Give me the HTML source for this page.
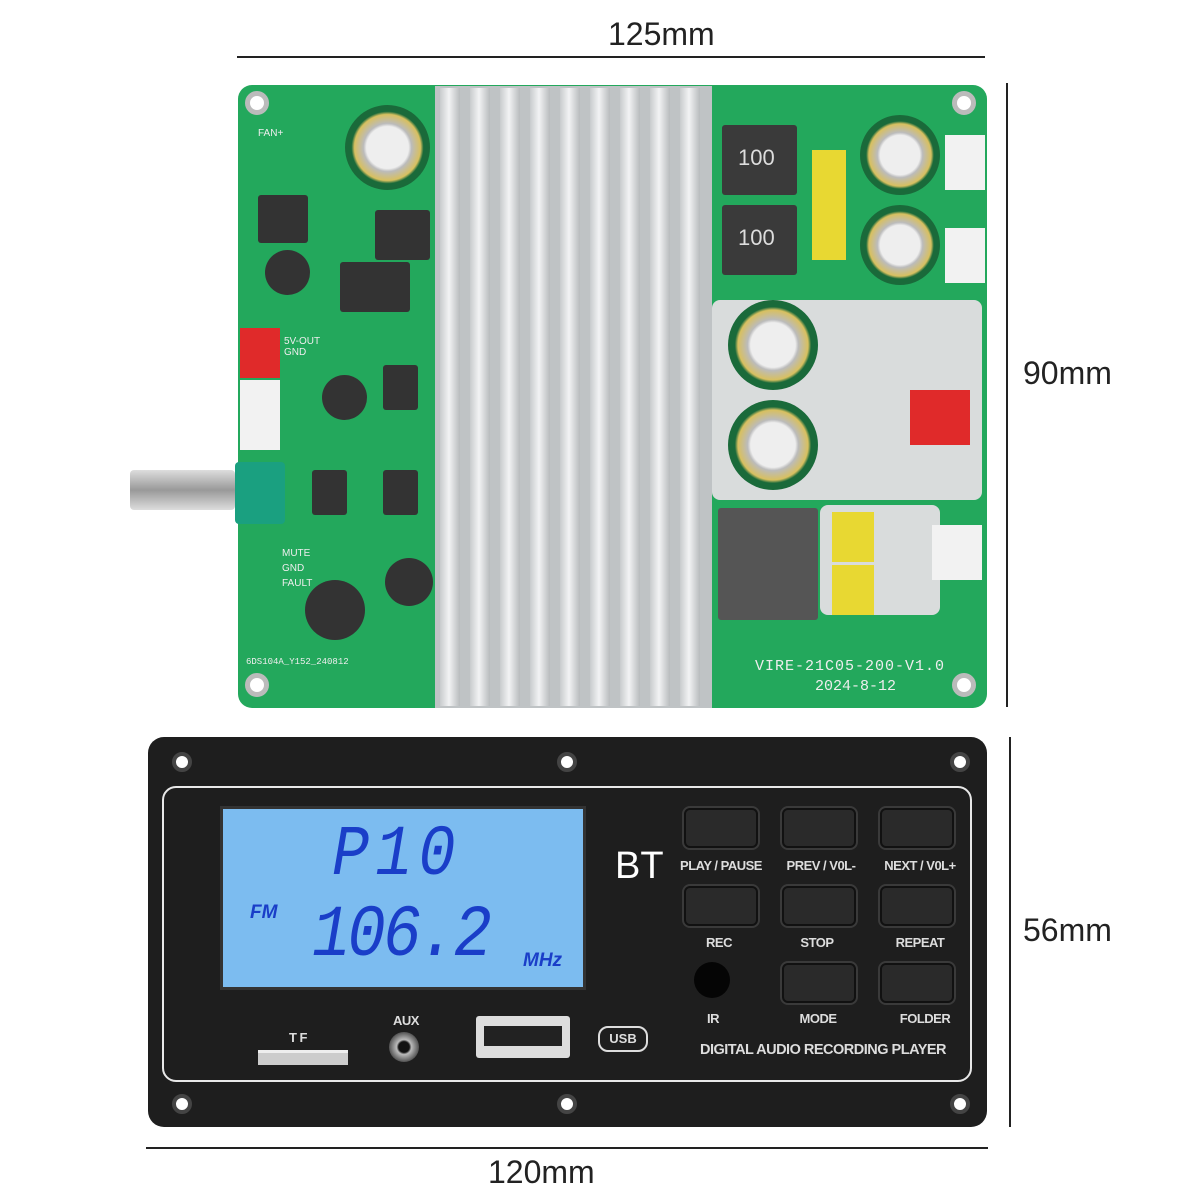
<!DOCTYPE html>
<html><head><meta charset="utf-8"><style>
body{margin:0;width:1200px;height:1200px;background:#fff;position:relative;overflow:hidden;font-family:"Liberation Sans",sans-serif}
.a{position:absolute}
.dim{font-size:32px;color:#222}
.btn{position:absolute;width:70px;height:36px;background:#2a2a2a;border:2px solid #111;border-radius:6px;box-shadow:0 0 0 2px #3a3a3a}
.lbl{position:absolute;color:#ddd;font-size:13px;font-weight:bold;text-align:center;width:120px;letter-spacing:-0.5px}
.hole{position:absolute;width:14px;height:14px;border-radius:50%;background:#fff;border:5px solid #bbb}
.fin{position:absolute;top:88px;height:618px;width:20px;background:linear-gradient(90deg,#c8cbcd,#f2f3f4 45%,#b8bbbd)}
.cap{position:absolute;border-radius:50%;background:radial-gradient(circle,#eee 35%,#bbb 40%,#d8c060 55%,#1a6a3a 60%)}
.comp{position:absolute;background:#333;border-radius:3px}
.seg{position:absolute;color:#1a3ec8;font-style:italic;font-family:'Liberation Mono',monospace;transform-origin:0 0;line-height:1}
</style></head><body>
<div class="a" style="left:237px;top:56px;width:748px;height:2px;background:#222"></div>
<div class="a dim" style="left:608px;top:16px">125mm</div>
<div class="a" style="left:1006px;top:83px;width:2px;height:624px;background:#222"></div>
<div class="a dim" style="left:1023px;top:355px">90mm</div>
<div class="a" style="left:1009px;top:737px;width:2px;height:390px;background:#222"></div>
<div class="a dim" style="left:1023px;top:912px">56mm</div>
<div class="a" style="left:146px;top:1147px;width:842px;height:2px;background:#222"></div>
<div class="a dim" style="left:488px;top:1154px">120mm</div>

<div class="a" style="left:238px;top:85px;width:749px;height:623px;background:#23a85c;border-radius:14px"></div>
<div class="a" style="left:712px;top:300px;width:270px;height:200px;background:#d9dcdc;border-radius:8px"></div>
<div class="a" style="left:820px;top:505px;width:120px;height:110px;background:#d9dcdc;border-radius:8px"></div>
<div class="a" style="left:435px;top:86px;width:277px;height:622px;background:#bfc3c5"></div>
<div class="fin" style="left:440px"></div><div class="fin" style="left:470px"></div><div class="fin" style="left:500px"></div><div class="fin" style="left:530px"></div><div class="fin" style="left:560px"></div><div class="fin" style="left:590px"></div><div class="fin" style="left:620px"></div><div class="fin" style="left:650px"></div><div class="fin" style="left:680px"></div>
<div class="hole" style="left:245px;top:91px"></div><div class="hole" style="left:952px;top:91px"></div>
<div class="hole" style="left:245px;top:673px"></div><div class="hole" style="left:952px;top:673px"></div>
<div class="cap" style="left:345px;top:105px;width:85px;height:85px"></div>
<div class="cap" style="left:860px;top:115px;width:80px;height:80px"></div>
<div class="cap" style="left:860px;top:205px;width:80px;height:80px"></div>
<div class="cap" style="left:728px;top:300px;width:90px;height:90px"></div>
<div class="cap" style="left:728px;top:400px;width:90px;height:90px"></div>
<div class="comp" style="left:722px;top:125px;width:75px;height:70px;background:#3a3a3a"></div>
<div class="comp" style="left:722px;top:205px;width:75px;height:70px;background:#3a3a3a"></div>
<div class="a" style="left:738px;top:145px;color:#ddd;font-size:22px">100</div>
<div class="a" style="left:738px;top:225px;color:#ddd;font-size:22px">100</div>
<div class="a" style="left:812px;top:150px;width:34px;height:55px;background:#e8d832"></div>
<div class="a" style="left:812px;top:205px;width:34px;height:55px;background:#e8d832"></div>
<div class="a" style="left:832px;top:512px;width:42px;height:50px;background:#e8d832"></div>
<div class="a" style="left:832px;top:565px;width:42px;height:50px;background:#e8d832"></div>
<div class="comp" style="left:718px;top:508px;width:100px;height:112px;background:#555"></div>
<div class="comp" style="left:258px;top:195px;width:50px;height:48px"></div>
<div class="comp" style="left:340px;top:262px;width:70px;height:50px"></div>
<div class="comp" style="left:375px;top:210px;width:55px;height:50px"></div>
<div class="cap" style="left:265px;top:250px;width:45px;height:45px;background:#333"></div>
<div class="cap" style="left:322px;top:375px;width:45px;height:45px;background:#333"></div>
<div class="cap" style="left:305px;top:580px;width:60px;height:60px;background:#333"></div>
<div class="cap" style="left:385px;top:558px;width:48px;height:48px;background:#333"></div>
<div class="comp" style="left:312px;top:470px;width:35px;height:45px"></div>
<div class="comp" style="left:383px;top:470px;width:35px;height:45px"></div>
<div class="comp" style="left:383px;top:365px;width:35px;height:45px"></div>
<div class="a" style="left:240px;top:328px;width:40px;height:50px;background:#e02a2a"></div>
<div class="a" style="left:240px;top:380px;width:40px;height:70px;background:#f2f2f2"></div>
<div class="a" style="left:910px;top:390px;width:60px;height:55px;background:#e02a2a"></div>
<div class="a" style="left:945px;top:135px;width:40px;height:55px;background:#f2f2f2"></div>
<div class="a" style="left:945px;top:228px;width:40px;height:55px;background:#f2f2f2"></div>
<div class="a" style="left:932px;top:525px;width:50px;height:55px;background:#f2f2f2"></div>
<div class="a" style="left:235px;top:462px;width:50px;height:62px;background:#1aa080;border-radius:4px"></div>
<div class="a" style="left:130px;top:470px;width:105px;height:40px;background:linear-gradient(#ddd,#999,#ddd);border-radius:4px"></div>
<div class="a" style="left:755px;top:658px;color:#eee;font-size:15px;letter-spacing:1px;font-family:'Liberation Mono',monospace">VIRE-21C05-200-V1.0</div>
<div class="a" style="left:815px;top:678px;color:#eee;font-size:15px;font-family:'Liberation Mono',monospace">2024-8-12</div>
<div class="a" style="left:246px;top:657px;color:#eee;font-size:9px;font-family:'Liberation Mono',monospace">6DS104A_Y152_240812</div>
<div class="a" style="left:258px;top:128px;color:#eee;font-size:10px">FAN+</div>
<div class="a" style="left:284px;top:336px;color:#eee;font-size:10px">5V-OUT<br>GND</div>
<div class="a" style="left:282px;top:546px;color:#eee;font-size:10px;line-height:15px">MUTE<br>GND<br>FAULT</div>

<div class="a" style="left:148px;top:737px;width:839px;height:390px;background:#1e1e1e;border-radius:16px"></div>
<div class="a" style="left:162px;top:786px;width:806px;height:292px;border:2.5px solid #e8e8e8;border-radius:14px"></div>
<div class="hole" style="left:172px;top:752px;border-color:#444;width:12px;height:12px;border-width:4px"></div>
<div class="hole" style="left:557px;top:752px;border-color:#444;width:12px;height:12px;border-width:4px"></div>
<div class="hole" style="left:950px;top:752px;border-color:#444;width:12px;height:12px;border-width:4px"></div>
<div class="hole" style="left:172px;top:1094px;border-color:#444;width:12px;height:12px;border-width:4px"></div>
<div class="hole" style="left:557px;top:1094px;border-color:#444;width:12px;height:12px;border-width:4px"></div>
<div class="hole" style="left:950px;top:1094px;border-color:#444;width:12px;height:12px;border-width:4px"></div>
<div class="a" style="left:220px;top:806px;width:366px;height:184px;background:#7cbcf0;border:3px solid #333;box-sizing:border-box"></div>
<div class="seg" style="left:332px;top:820px;font-size:62px;letter-spacing:6px;transform:scaleY(1.15)">P10</div>
<div class="seg" style="left:312px;top:900px;font-size:64px;letter-spacing:-3px;transform:scaleY(1.15)">106.2</div>
<div class="a" style="left:250px;top:902px;color:#1a3ec8;font-size:19px;font-style:italic;font-weight:bold">FM</div>
<div class="a" style="left:523px;top:950px;color:#1a3ec8;font-size:19px;font-style:italic;font-weight:bold">MHz</div>
<div class="a" style="left:615px;top:845px;color:#fff;font-size:38px">BT</div>
<div class="btn" style="left:684px;top:808px"></div><div class="btn" style="left:782px;top:808px"></div><div class="btn" style="left:880px;top:808px"></div>
<div class="btn" style="left:684px;top:886px"></div><div class="btn" style="left:782px;top:886px"></div><div class="btn" style="left:880px;top:886px"></div>
<div class="btn" style="left:782px;top:963px"></div><div class="btn" style="left:880px;top:963px"></div>
<div class="a" style="left:694px;top:962px;width:36px;height:36px;border-radius:50%;background:#050505"></div>
<div class="lbl" style="left:661px;top:858px">PLAY / PAUSE</div>
<div class="lbl" style="left:761px;top:858px">PREV / V0L-</div>
<div class="lbl" style="left:860px;top:858px">NEXT / V0L+</div>
<div class="lbl" style="left:659px;top:935px">REC</div>
<div class="lbl" style="left:757px;top:935px">STOP</div>
<div class="lbl" style="left:860px;top:935px">REPEAT</div>
<div class="lbl" style="left:653px;top:1011px">IR</div>
<div class="lbl" style="left:758px;top:1011px">MODE</div>
<div class="lbl" style="left:865px;top:1011px">FOLDER</div>
<div class="lbl" style="left:700px;top:1042px;width:270px;text-align:left;font-size:14.5px">DIGITAL AUDIO RECORDING PLAYER</div>
<div class="a" style="left:476px;top:1016px;width:94px;height:42px;background:#ddd;border-radius:3px"></div>
<div class="a" style="left:484px;top:1026px;width:78px;height:20px;background:#222"></div>
<div class="a" style="left:598px;top:1026px;width:46px;height:22px;border:2px solid #ddd;border-radius:10px;color:#ddd;font-size:13px;font-weight:bold;text-align:center;line-height:22px">USB</div>
<div class="lbl" style="left:346px;top:1013px">AUX</div>
<div class="a" style="left:389px;top:1032px;width:30px;height:30px;border-radius:50%;background:radial-gradient(circle,#111 25%,#bbb 35%,#555 70%)"></div>
<div class="lbl" style="left:238px;top:1030px">T F</div>
<div class="a" style="left:258px;top:1050px;width:90px;height:12px;background:#ccc;border-top:3px solid #eee"></div>
</body></html>
